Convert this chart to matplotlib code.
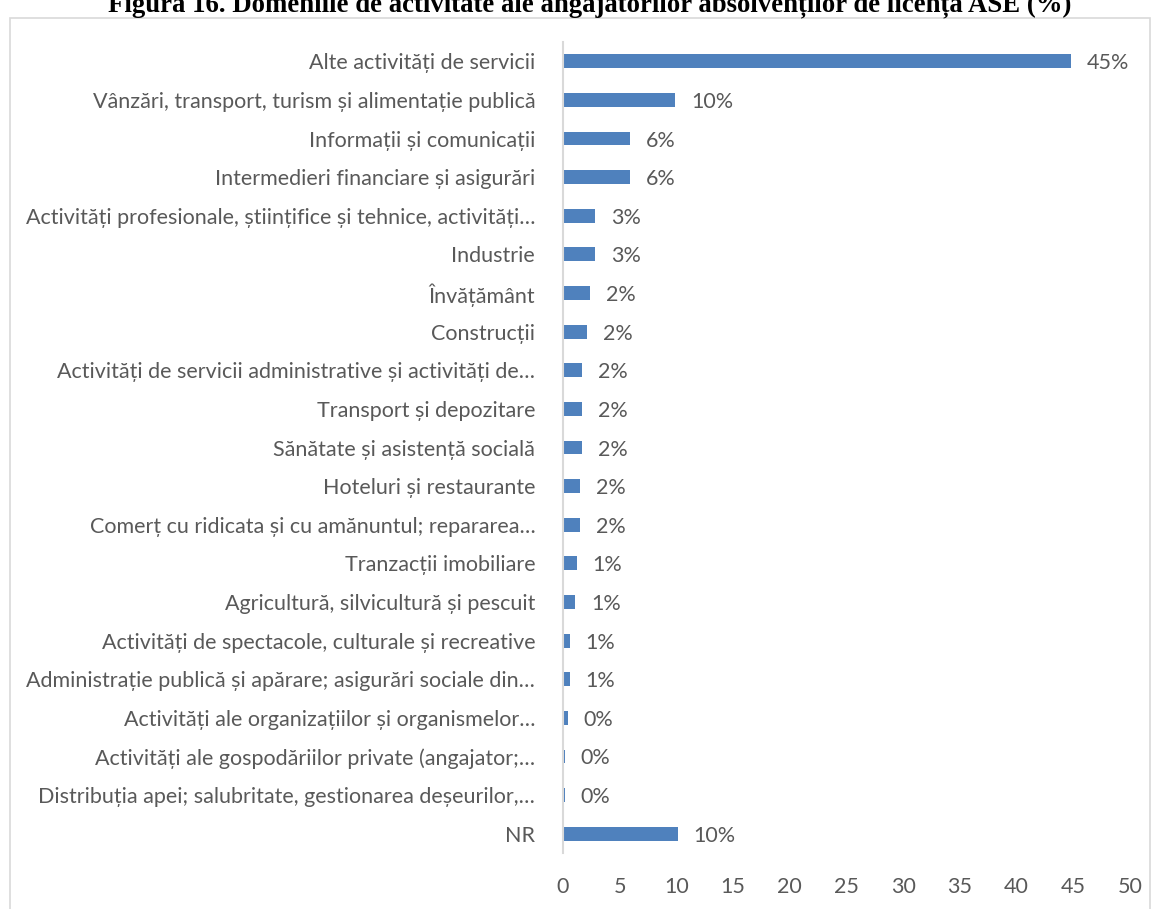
import matplotlib
matplotlib.use('Agg')
import matplotlib.pyplot as plt
from matplotlib.patches import Rectangle

# ------------------------------------------------------
# DATA
# ------------------------------------------------------
categories = [
    'Alte activități de servicii',
    'Vânzări, transport, turism și alimentație publică',
    'Informații și comunicații',
    'Intermedieri financiare și asigurări',
    'Activități profesionale, științifice și tehnice, activități…',
    'Industrie',
    'Învățământ',
    'Construcții',
    'Activități de servicii administrative și activități de…',
    'Transport și depozitare',
    'Sănătate și asistență socială',
    'Hoteluri și restaurante',
    'Comerț cu ridicata și cu amănuntul; repararea…',
    'Tranzacții imobiliare',
    'Agricultură, silvicultură și pescuit',
    'Activități de spectacole, culturale și recreative',
    'Administrație publică și apărare; asigurări sociale din…',
    'Activități ale organizațiilor și organismelor…',
    'Activități ale gospodăriilor private (angajator;…',
    'Distribuția apei; salubritate, gestionarea deșeurilor,…',
    'NR',
]
values = [44.8, 9.9, 5.9, 5.9, 2.8, 2.8, 2.4, 2.1, 1.7, 1.7, 1.7,
          1.5, 1.5, 1.2, 1.1, 0.6, 0.6, 0.4, 0.15, 0.15, 10.1]
value_labels = ['45%', '10%', '6%', '6%', '3%', '3%', '2%', '2%', '2%', '2%', '2%',
                '2%', '2%', '1%', '1%', '1%', '1%', '0%', '0%', '0%', '10%']
xticks = [0, 5, 10, 15, 20, 25, 30, 35, 40, 45, 50]

title = 'Figura 16. Domeniile de activitate ale angajatorilor absolvenților de licența ASE (%)'

# ------------------------------------------------------
# PLOT
# ------------------------------------------------------
plt.rcParams['font.family'] = ['Lato', 'Open Sans', 'DejaVu Sans']
grey = '#595959'
barColor = '#4F81BD'
fsize = 15.5

fig = plt.figure(figsize=(11.57, 9.09), dpi=100)

# Chart frame (bottom is cut off in the original)
fig.patches.append(Rectangle((10/1157, -0.05), 1140/1157, 1.05 - 18/909,
                             transform=fig.transFigure, fill=False,
                             edgecolor='#d9d9d9', linewidth=1.2))

# Title, partly cut at the top as in the original
fig.text(590/1157, 1 - 11/909, title, ha='center', va='baseline',
         family='Liberation Serif', weight='bold', fontsize=19.3, color='black')

ax = fig.add_axes([563/1157, 1 - 853/909, 567/1157, 811/909])

pos = list(range(len(categories)))
ax.barh(pos, values, height=0.36, color=barColor)

for p, v, lab in zip(pos, values, value_labels):
    ax.annotate(lab, (v, p), xytext=(11.5, 0), textcoords='offset points',
                va='center_baseline', ha='left', fontsize=fsize, color=grey)

ax.set_ylim(len(categories) - 0.5, -0.5)
ax.set_xlim(0, 50)
ax.set_yticks(pos)
ax.set_yticklabels(categories, fontsize=fsize, color=grey)
ax.set_xticks(xticks)
ax.set_xticklabels([str(t) for t in xticks], fontsize=fsize, color=grey)
ax.tick_params(axis='y', length=0, pad=20)
ax.tick_params(axis='x', length=0, pad=17)

for s in ['top', 'right', 'bottom']:
    ax.spines[s].set_visible(False)
ax.spines['left'].set_color('#d9d9d9')
ax.spines['left'].set_linewidth(1.5)
ax.patch.set_alpha(0)

fig.savefig('out.png', dpi=100)
